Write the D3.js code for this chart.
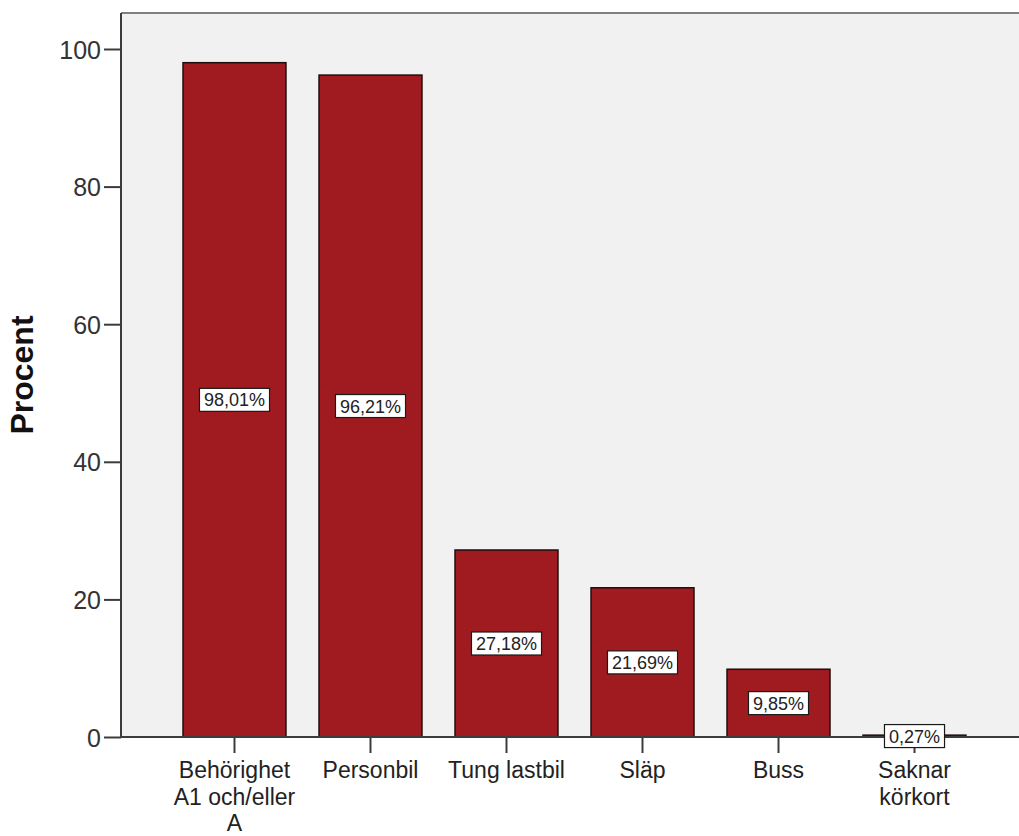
<!DOCTYPE html>
<html>
<head>
<meta charset="utf-8">
<script src="https://cdn.jsdelivr.net/npm/d3@7"></script>
<style>
  html, body { margin: 0; padding: 0; background: #ffffff; }
  svg { display: block; }
  text { font-family: "Liberation Sans", Arial, sans-serif; }
</style>
</head>
<body>
<svg id="chart" width="1019" height="836"></svg>
<script>
// Driving licence categories and their share in percent
const categories = ["Behörighet A1 och/eller A", "Personbil", "Tung lastbil", "Släp", "Buss", "Saknar körkort"];
// axis label lines for each category, as wrapped under the ticks
const categoryLines = [["Behörighet", "A1 och/eller", "A"], ["Personbil"], ["Tung lastbil"], ["Släp"], ["Buss"], ["Saknar", "körkort"]];
const values = [98.01, 96.21, 27.18, 21.69, 9.85, 0.27];
const valueLabels = ["98,01%", "96,21%", "27,18%", "21,69%", "9,85%", "0,27%"];
const yTicks = [0, 20, 40, 60, 80, 100];
const yTitle = "Procent";

const W = 1019, H = 836;
const plot = { left: 121, top: 13, right: 1028, bottom: 737 };

const svg = d3.select("#chart");

const x = d3.scaleBand()
  .domain(categories)
  .range([plot.left, plot.right])
  .paddingInner(0.243)
  .paddingOuter(0.456);

const y = d3.scaleLinear()
  .domain([0, 100])
  .range([plot.bottom, plot.bottom - 100 * 6.88]);

// plot background
svg.append("rect")
  .attr("x", plot.left).attr("y", plot.top)
  .attr("width", plot.right - plot.left)
  .attr("height", plot.bottom - plot.top)
  .attr("fill", "#f0f1f0");

// top frame line
svg.append("line")
  .attr("x1", plot.left).attr("x2", W)
  .attr("y1", plot.top).attr("y2", plot.top)
  .attr("stroke", "#7f7f7f").attr("stroke-width", 2);

// bars
svg.append("g").selectAll("rect")
  .data(categories)
  .join("rect")
  .attr("x", d => x(d))
  .attr("width", x.bandwidth())
  .attr("y", (d, i) => y(values[i]))
  .attr("height", (d, i) => y(0) - y(values[i]))
  .attr("fill", "#a01b20")
  .attr("stroke", "#1e0e0e")
  .attr("stroke-width", 1.5);

// y axis
const yAxis = d3.axisLeft(y).tickValues(yTicks).tickSize(17).tickPadding(3).tickFormat(d3.format("d"));
const gy = svg.append("g").attr("transform", `translate(${plot.left},0)`).call(yAxis);
gy.select(".domain").attr("stroke", "#3c3c3c").attr("stroke-width", 2)
  .attr("d", `M0,${plot.top}V${plot.bottom}`);
gy.selectAll(".tick line").attr("stroke", "#3c3c3c").attr("stroke-width", 2);
gy.selectAll(".tick text")
  .attr("fill", "#333").attr("font-size", 25)
  .attr("font-family", "Liberation Sans, Arial, sans-serif")
  .attr("dy", "0.36em");

// x axis
const xAxis = d3.axisBottom(x).tickSize(16).tickPadding(6);
const gx = svg.append("g").attr("transform", `translate(0,${plot.bottom})`).call(xAxis);
gx.select(".domain").attr("stroke", "#3c3c3c").attr("stroke-width", 2)
  .attr("d", `M${plot.left},0H${W}`);
gx.selectAll(".tick line").attr("stroke", "#3c3c3c").attr("stroke-width", 2);
gx.selectAll(".tick text").remove();

// multi-line category labels
const lineH = 26.5;
gx.selectAll(".tick").each(function(d, i) {
  const t = d3.select(this).append("text")
    .attr("fill", "#222").attr("font-size", 23)
    .attr("font-family", "Liberation Sans, Arial, sans-serif")
    .attr("text-anchor", "middle");
  categoryLines[i].forEach((ln, k) => {
    t.append("tspan").attr("x", 0).attr("y", 41 + k * lineH).text(ln);
  });
});

// value labels in boxes at half the bar height
const lbl = svg.append("g").selectAll("g")
  .data(categories)
  .join("g")
  .attr("transform", (d, i) => `translate(${x(d) + x.bandwidth() / 2},${y(values[i] / 2)})`);

lbl.each(function(d, i) {
  const g = d3.select(this);
  const r = g.append("rect").attr("fill", "#ffffff").attr("stroke", "#1a1a1a").attr("stroke-width", 1.2);
  const t = g.append("text")
    .attr("text-anchor", "middle")
    .attr("dy", "0.36em")
    .attr("font-size", 18)
    .attr("fill", "#222")
    .text(valueLabels[i]);
  const w = t.node().getComputedTextLength() + 9;
  const h = 23;
  r.attr("x", -w / 2).attr("y", -h / 2).attr("width", w).attr("height", h);
});

// y axis title
svg.append("text")
  .attr("transform", `translate(33,${(plot.top + plot.bottom) / 2}) rotate(-90)`)
  .attr("text-anchor", "middle")
  .attr("font-size", 32)
  .attr("font-weight", "bold")
  .attr("fill", "#111")
  .text(yTitle);
</script>
</body>
</html>
